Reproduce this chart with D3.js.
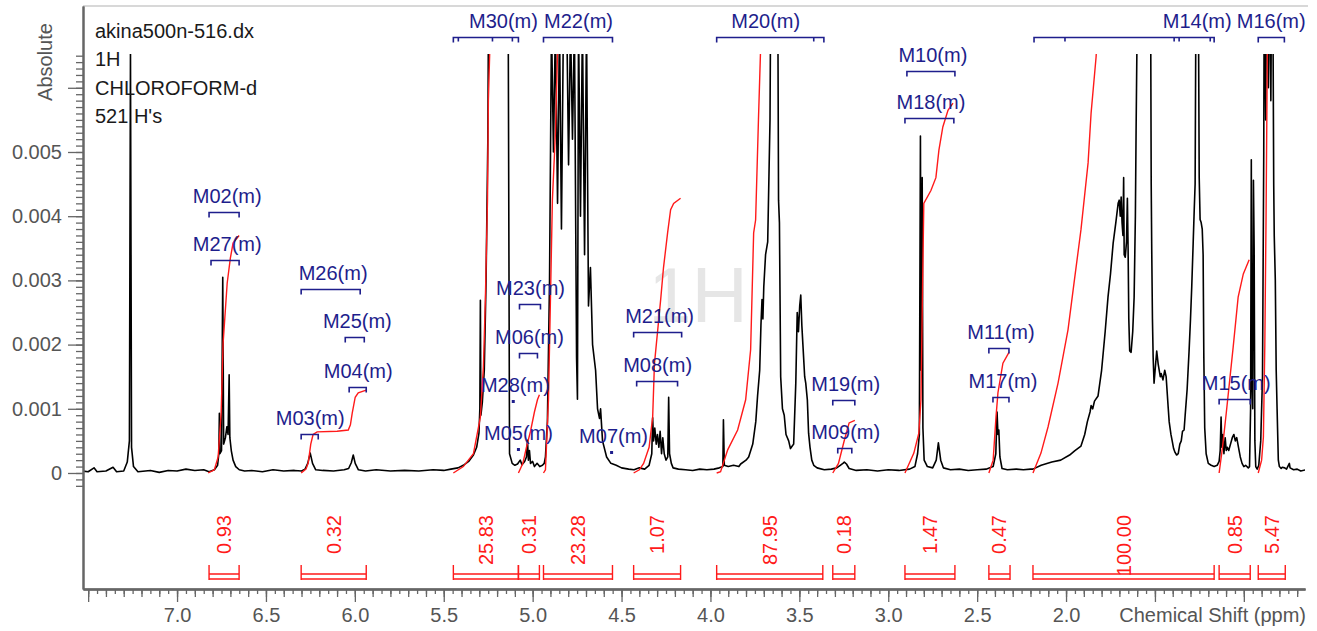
<!DOCTYPE html>
<html>
<head>
<meta charset="utf-8">
<script src="https://cdn.jsdelivr.net/npm/d3@7"></script>
<style>
  body { margin: 0; background: #fff; }
  svg { display: block; }
  text { font-family: "Liberation Sans", Arial, sans-serif; }
</style>
</head>
<body>
<svg width="1317" height="631"></svg>
<script>
// intensities are in units of 1e-3 (Absolute), shifts in ppm
const info = ['akina500n-516.dx', '1H', 'CHLOROFORM-d', "521 H's"];

const spectrum = [
  [7.53,0.03],[7.50,0.02],[7.467,0.08],[7.45,0.02],[7.40,0.03],[7.36,0.09],[7.34,0.02],[7.30,0.03],
  [7.28,0.17],[7.268,0.5],[7.262,6.6],[7.256,0.4],[7.245,0.1],[7.22,0.02],[7.15,0.04],[7.10,0.01],
  [7.05,0.04],[7.00,0.03],[6.95,0.06],[6.90,0.04],[6.85,0.05],[6.82,0.02],
  [6.79,0.05],[6.772,0.12],[6.765,0.3],[6.762,0.93],[6.759,0.3],[6.750,0.35],[6.743,3.05],[6.738,0.45],
  [6.728,0.55],[6.72,0.72],[6.713,0.6],[6.707,1.53],[6.703,0.55],[6.695,0.35],[6.685,0.2],[6.67,0.1],
  [6.65,0.05],[6.62,0.03],[6.58,0.04],[6.52,0.02],[6.46,0.05],[6.40,0.03],[6.34,0.04],[6.30,0.03],
  [6.28,0.06],[6.265,0.15],[6.251,0.31],[6.238,0.15],[6.22,0.05],[6.18,0.04],[6.12,0.03],[6.06,0.05],
  [6.035,0.07],[6.02,0.16],[6.009,0.28],[5.998,0.15],[5.98,0.05],[5.94,0.03],[5.88,0.05],[5.80,0.03],
  [5.72,0.04],[5.64,0.03],[5.56,0.05],[5.50,0.04],[5.46,0.06],[5.42,0.08],[5.39,0.12],[5.36,0.18],
  [5.333,0.28],[5.315,0.4],[5.302,0.62],[5.297,1.0],[5.294,2.69],[5.291,0.9],[5.283,1.1],[5.272,1.6],
  [5.262,3.0],[5.252,5.2],[5.246,8.5],[5.20,11],[5.16,10],[5.139,8.5],[5.130,0.3],[5.122,0.22],
  [5.115,0.15],[5.10,0.12],[5.085,0.14],[5.07,0.2],[5.06,0.13],[5.045,0.18],[5.035,0.25],[5.029,0.51],
  [5.024,0.2],[5.018,0.35],[5.012,0.15],[5.00,0.18],[4.99,0.1],[4.975,0.15],[4.96,0.1],[4.945,0.12],
  [4.935,0.15],[4.928,0.25],[4.917,0.8],[4.905,3.0],[4.894,7],[4.883,5.0],[4.872,7],[4.860,4.2],
  [4.849,7],[4.838,3.8],[4.827,7],[4.810,7.5],[4.798,4.8],[4.787,7],[4.776,5.2],[4.765,7],
  [4.753,1.8],[4.748,1.15],[4.742,7],[4.731,4.0],[4.720,7],[4.708,3.4],[4.697,7],[4.686,2.6],
  [4.675,3.2],[4.663,2.0],[4.646,1.6],[4.635,1.0],[4.624,0.85],[4.618,1.0],[4.607,0.5],[4.584,0.25],
  [4.56,0.15],[4.53,0.12],[4.50,0.08],[4.46,0.06],[4.43,0.05],[4.40,0.08],[4.37,0.06],[4.345,0.12],
  [4.33,0.3],[4.325,0.86],[4.320,0.5],[4.313,0.7],[4.305,0.45],[4.298,0.6],[4.290,0.4],[4.283,0.65],
  [4.275,0.3],[4.268,0.55],[4.260,0.3],[4.250,0.2],[4.240,0.25],[4.235,1.18],[4.230,0.3],[4.22,0.15],
  [4.21,0.08],[4.18,0.06],[4.14,0.05],[4.10,0.04],[4.06,0.06],[4.02,0.05],[3.98,0.06],[3.95,0.08],
  [3.93,0.1],[3.927,0.83],[3.922,0.12],[3.90,0.1],[3.87,0.12],[3.84,0.1],[3.83,0.14],[3.80,0.2],
  [3.785,0.25],[3.762,0.45],[3.745,0.8],[3.735,1.2],[3.723,1.6],[3.716,2.3],[3.710,2.7],[3.705,2.4],
  [3.700,2.9],[3.69,3.4],[3.678,3.6],[3.665,5.5],[3.660,8],[3.64,10],[3.622,8],[3.617,4.25],
  [3.612,3.9],[3.605,1.5],[3.595,1.0],[3.585,0.9],[3.575,0.6],[3.56,0.5],[3.55,0.38],[3.54,0.42],
  [3.532,0.45],[3.525,1.0],[3.52,1.4],[3.512,2.5],[3.505,2.2],[3.498,2.6],[3.492,2.77],[3.486,2.3],
  [3.48,2.0],[3.47,1.5],[3.464,1.4],[3.455,1.14],[3.448,0.62],[3.44,0.4],[3.43,0.2],[3.419,0.12],
  [3.40,0.08],[3.36,0.05],[3.32,0.06],[3.29,0.08],[3.27,0.12],[3.255,0.15],[3.247,0.17],[3.235,0.14],
  [3.22,0.07],[3.18,0.04],[3.12,0.05],[3.06,0.03],[3.00,0.05],[2.94,0.04],[2.88,0.06],[2.85,0.1],
  [2.835,0.3],[2.825,0.6],[2.819,5.25],[2.815,1.6],[2.812,2.0],[2.809,4.6],[2.805,0.7],[2.798,0.2],
  [2.78,0.1],[2.75,0.08],[2.73,0.2],[2.718,0.47],[2.705,0.2],[2.69,0.08],[2.65,0.05],[2.60,0.06],
  [2.55,0.04],[2.50,0.05],[2.45,0.06],[2.41,0.1],[2.395,0.3],[2.388,0.95],[2.383,0.6],[2.378,0.67],
  [2.372,0.25],[2.36,0.07],[2.33,0.05],[2.28,0.06],[2.24,0.05],[2.20,0.06],[2.186,0.06],[2.14,0.12],
  [2.08,0.17],[2.03,0.2],[1.98,0.28],[1.95,0.35],[1.916,0.42],[1.895,0.6],[1.88,0.8],[1.865,0.95],
  [1.859,1.05],[1.85,1.0],[1.84,1.12],[1.82,1.2],[1.80,1.6],[1.78,2.2],[1.764,2.74],[1.75,3.1],
  [1.735,3.58],[1.72,3.9],[1.707,4.2],[1.701,4.25],[1.695,4.0],[1.69,4.3],[1.685,3.9],[1.680,3.7],
  [1.676,4.6],[1.673,3.4],[1.667,3.36],[1.660,3.6],[1.655,4.28],[1.651,3.5],[1.647,2.4],[1.642,1.9],
  [1.634,1.88],[1.625,2.2],[1.617,2.74],[1.610,4.0],[1.606,5.34],[1.600,7],[1.58,9],[1.55,10],
  [1.525,8],[1.521,4.5],[1.518,3.47],[1.514,2.4],[1.510,1.8],[1.505,1.4],[1.499,1.6],[1.49,1.9],
  [1.482,1.7],[1.47,1.5],[1.465,1.55],[1.455,1.45],[1.445,1.6],[1.437,1.5],[1.425,1.0],[1.42,0.8],
  [1.41,0.6],[1.403,0.5],[1.395,0.38],[1.387,0.32],[1.378,0.28],[1.369,0.30],[1.360,0.45],[1.352,0.5],
  [1.345,0.65],[1.336,0.67],[1.33,0.9],[1.319,1.3],[1.308,1.9],[1.30,2.4],[1.293,2.9],[1.285,3.58],
  [1.279,4.1],[1.274,4.5],[1.270,7],[1.262,8],[1.255,7],[1.251,4.6],[1.246,3.95],[1.240,3.9],
  [1.234,3.8],[1.229,3.4],[1.225,1.8],[1.220,0.7],[1.212,0.3],[1.200,0.15],[1.184,0.12],[1.167,0.1],
  [1.15,0.12],[1.139,0.18],[1.133,0.35],[1.128,0.87],[1.124,0.4],[1.118,0.6],[1.112,0.3],[1.105,0.55],
  [1.099,0.35],[1.093,0.4],[1.085,0.35],[1.075,0.45],[1.065,0.55],[1.056,0.6],[1.048,0.5],[1.04,0.55],
  [1.03,0.4],[1.02,0.25],[1.010,0.15],[1.000,0.1],[0.99,0.12],[0.975,0.08],[0.968,0.1],[0.962,1.0],
  [0.958,4.88],[0.955,1.5],[0.950,1.0],[0.946,4.56],[0.942,3.5],[0.938,0.5],[0.933,0.1],[0.925,0.06],
  [0.916,0.12],[0.905,0.5],[0.895,1.5],[0.888,5],[0.885,8],[0.877,5.5],[0.872,8],[0.862,6],
  [0.857,8],[0.848,5.8],[0.843,8],[0.836,7],[0.832,4.5],[0.829,3.7],[0.823,3.0],[0.818,1.6],
  [0.813,1.0],[0.806,0.2],[0.80,0.1],[0.79,0.07],[0.784,0.09],[0.77,0.08],[0.76,0.06],[0.744,0.15],
  [0.74,0.08],[0.72,0.05],[0.70,0.06],[0.68,0.03],[0.65,0.05]
];

const integralRanges = [
  [6.820,6.651],[6.302,5.936],[5.446,5.080],[5.080,4.962],[4.939,4.551],[4.432,4.168],[3.965,3.368],
  [3.312,3.188],[2.906,2.625],[2.434,2.315],[2.186,1.167],[1.139,0.964],[0.919,0.767]
];
const integralValues = [0.93, 0.32, 25.83, 0.31, 23.28, 1.07, 87.95, 0.18, 1.47, 0.47, 100.00, 0.85, 5.47];

const integralCurves = [
  [[6.825,0],[6.79,0.05],[6.769,0.25],[6.752,0.93],[6.741,2.02],[6.718,2.96],[6.70,3.35],[6.685,3.58],[6.651,3.7]],
  [[6.302,0],[6.275,0.06],[6.262,0.16],[6.248,0.45],[6.235,0.6],[6.212,0.64],[6.10,0.65],[6.037,0.67],[6.025,0.75],[6.015,0.93],[5.998,1.18],[5.981,1.25],[5.936,1.29]],
  [[5.446,0],[5.39,0.1],[5.333,0.3],[5.294,0.87],[5.277,1.65],[5.266,2.7],[5.254,4.25],[5.249,5.8],[5.238,6.9],[5.23,8]],
  [[5.080,0],[5.055,0.15],[5.035,0.4],[5.012,0.65],[4.99,0.95],[4.973,1.14],[4.962,1.22]],
  [[4.939,0],[4.928,0.05],[4.911,1.14],[4.889,4.25],[4.872,5.29],[4.86,6.55],[4.85,7.5]],
  [[4.432,0],[4.40,0.05],[4.376,0.15],[4.345,0.4],[4.325,0.87],[4.315,1.7],[4.28,2.7],[4.264,3.2],[4.241,3.74],[4.224,4.1],[4.207,4.2],[4.168,4.28]],
  [[3.965,0],[3.943,0.02],[3.903,0.36],[3.847,0.67],[3.802,1.14],[3.774,1.92],[3.757,3.74],[3.746,3.94],[3.73,5.5],[3.718,6.6],[3.70,8]],
  [[3.312,0],[3.28,0.15],[3.247,0.51],[3.22,0.78],[3.188,0.82]],
  [[2.906,0],[2.856,0.31],[2.828,0.62],[2.816,1.14],[2.808,2.7],[2.800,4.2],[2.76,4.4],[2.732,4.6],[2.715,5.03],[2.693,5.39],[2.664,5.65],[2.636,5.76]],
  [[2.434,0],[2.41,0.2],[2.394,0.87],[2.383,1.25],[2.355,1.71],[2.321,1.88]],
  [[2.186,0],[2.141,0.31],[2.101,0.72],[2.045,1.40],[1.989,2.23],[1.955,2.96],[1.916,3.79],[1.876,4.83],[1.859,5.61],[1.831,6.48],[1.81,7.5]],
  [[1.139,0],[1.12,0.4],[1.099,0.93],[1.06,1.96],[1.032,2.74],[1.003,3.1],[0.97,3.32]],
  [[0.919,0],[0.90,0.2],[0.890,0.56],[0.882,2.0],[0.875,4.0],[0.868,6.5],[0.86,8]]
];

// multiplet labels: bracket from..to (ppm), label centre, bracket level (1e-3)
const multiplets = [
  {name: 'M02', from: 6.820, to: 6.651, at: 6.718, level: 4.07},
  {name: 'M27', from: 6.809, to: 6.651, at: 6.718, level: 3.32},
  {name: 'M26', from: 6.302, to: 5.970, at: 6.122, level: 2.87},
  {name: 'M25', from: 6.054, to: 5.947, at: 5.986, level: 2.12},
  {name: 'M04', from: 6.032, to: 5.936, at: 5.981, level: 1.34},
  {name: 'M03', from: 6.302, to: 6.206, at: 6.251, level: 0.61},
  {name: 'M30', from: 5.446, to: 5.080, at: 5.164, level: 6.79, ticks: [5.418, 5.226, 5.114]},
  {name: 'M22', from: 4.939, to: 4.551, at: 4.742, level: 6.79},
  {name: 'M20', from: 3.965, to: 3.362, at: 3.689, level: 6.79, ticks: [3.419]},
  {name: 'M23', from: 5.074, to: 4.956, at: 5.012, level: 2.63},
  {name: 'M06', from: 5.074, to: 4.973, at: 5.018, level: 1.87},
  {name: 'M28', from: 5.109, to: 5.109, at: 5.097, level: 1.12},
  {name: 'M05', from: 5.080, to: 5.080, at: 5.080, level: 0.37},
  {name: 'M07', from: 4.556, to: 4.556, at: 4.545, level: 0.33},
  {name: 'M21', from: 4.432, to: 4.162, at: 4.286, level: 2.20},
  {name: 'M08', from: 4.415, to: 4.185, at: 4.297, level: 1.43},
  {name: 'M19', from: 3.312, to: 3.188, at: 3.239, level: 1.14},
  {name: 'M09', from: 3.284, to: 3.205, at: 3.239, level: 0.39},
  {name: 'M10', from: 2.895, to: 2.625, at: 2.749, level: 6.26},
  {name: 'M18', from: 2.906, to: 2.631, at: 2.760, level: 5.53},
  {name: 'M14', from: 2.180, to: 1.167, at: 1.262, level: 6.79, ticks: [2.006, 1.392, 1.364, 1.189]},
  {name: 'M16', from: 0.919, to: 0.772, at: 0.846, level: 6.79},
  {name: 'M11', from: 2.434, to: 2.321, at: 2.366, level: 1.95},
  {name: 'M17', from: 2.411, to: 2.321, at: 2.355, level: 1.18},
  {name: 'M15', from: 1.139, to: 0.964, at: 1.043, level: 1.15}
];

const xLabelTicks = [7.0, 6.5, 6.0, 5.5, 5.0, 4.5, 4.0, 3.5, 3.0, 2.5, 2.0];
const yLabelTicks = [0, 1, 2, 3, 4, 5];

const svg = d3.select('svg');
const x = d3.scaleLinear().domain([7.529, 0.656]).range([83, 1305]);
const y = d3.scaleLinear().domain([-1.807, 7.274]).range([589, 6]);

const blue = '#1e1e8c';
const red = '#ff1a1a';
const grey = '#555';

// watermark
svg.append('text')
  .attr('x', 698).attr('y', 322)
  .attr('text-anchor', 'middle')
  .attr('font-size', 78)
  .attr('fill', '#e6e6e6')
  .text('1H');

// top frame line
svg.append('line')
  .attr('x1', 83).attr('x2', 1308).attr('y1', 6).attr('y2', 6)
  .attr('stroke', '#d8d8d8').attr('stroke-width', 2);

svg.append('defs').append('clipPath').attr('id', 'plot')
  .append('rect').attr('x', 83).attr('y', 54).attr('width', 1222).attr('height', 535);

const line = d3.line().x(d => x(d[0])).y(d => y(d[1]));

const plot = svg.append('g').attr('clip-path', 'url(#plot)');
plot.append('path')
  .attr('d', line(spectrum))
  .attr('fill', 'none')
  .attr('stroke', '#000')
  .attr('stroke-width', 1.6)
  .attr('stroke-linejoin', 'round');

plot.selectAll('path.integral')
  .data(integralCurves)
  .enter()
  .append('path')
  .attr('class', 'integral')
  .attr('d', line)
  .attr('fill', 'none')
  .attr('stroke', red)
  .attr('stroke-width', 1.4);

// integral brackets and values at the bottom
const ib = svg.append('g').attr('stroke', red).attr('stroke-width', 1.4).attr('fill', 'none');
integralRanges.forEach(([a, b]) => {
  const x1 = x(a), x2 = x(b);
  ib.append('path')
    .attr('d', `M${x1},565V580M${x2},565V580M${x1},574H${x2}M${x1},579H${x2}`);
});
svg.append('g')
  .selectAll('text')
  .data(integralRanges)
  .enter()
  .append('text')
  .attr('transform', d => `translate(${(x(d[0]) + x(d[1])) / 2 + 7},515) rotate(-90)`)
  .attr('text-anchor', 'end')
  .attr('font-size', 20)
  .attr('fill', red)
  .text((d, i) => integralValues[i].toFixed(2));

// multiplet labels
const mg = svg.append('g');
multiplets.forEach(m => {
  const yy = Math.round(y(m.level)) + 0.5;
  if (m.from === m.to) {
    mg.append('rect')
      .attr('x', x(m.from) - 1.5).attr('y', yy - 1.5)
      .attr('width', 3).attr('height', 3)
      .attr('fill', blue);
  } else {
    const x1 = x(m.from), x2 = x(m.to);
    let d = `M${x1},${yy + 5}V${yy}H${x2}V${yy + 5}`;
    (m.ticks || []).forEach(t => { d += `M${x(t)},${yy}V${yy + 4}`; });
    mg.append('path').attr('d', d)
      .attr('fill', 'none').attr('stroke', blue).attr('stroke-width', 1.6);
  }
  mg.append('text')
    .attr('x', x(m.at)).attr('y', yy - 10)
    .attr('text-anchor', 'middle')
    .attr('font-size', 20)
    .attr('fill', blue)
    .text(m.name + '(m)');
});

// x axis
const xAxisG = svg.append('g').attr('transform', 'translate(0,589)');
const minorX = d3.range(14, 151).map(i => i / 20);
const midX = d3.range(7, 76).map(i => i / 10);
const majorX = d3.range(2, 16).map(i => i / 2);
xAxisG.append('g').call(d3.axisBottom(x).tickValues(minorX).tickSize(5).tickSizeOuter(0).tickFormat(''));
xAxisG.append('g').call(d3.axisBottom(x).tickValues(midX).tickSize(8).tickSizeOuter(0).tickFormat(''));
xAxisG.append('g').call(d3.axisBottom(x).tickValues(majorX).tickSize(13).tickSizeOuter(0).tickPadding(6)
  .tickFormat(d => xLabelTicks.includes(d) ? d.toFixed(1) : ''));

// y axis
const yAxisG = svg.append('g').attr('transform', 'translate(83,0)');
const minorY = d3.range(-2, 66).map(i => i / 10);
yAxisG.append('g').call(d3.axisLeft(y).tickValues(minorY).tickSize(7).tickSizeOuter(0).tickFormat(''));
yAxisG.append('g').call(d3.axisLeft(y).tickValues([0, 1, 2, 3, 4, 5, 6]).tickSize(15).tickSizeOuter(0).tickPadding(6)
  .tickFormat(d => yLabelTicks.includes(d) ? (d === 0 ? '0' : (d / 1000).toFixed(3)) : ''));

svg.selectAll('.domain').attr('stroke', '#666').attr('stroke-width', 2);
svg.selectAll('.tick line').attr('stroke', '#666').attr('stroke-width', 1.3);
svg.selectAll('.tick text')
  .attr('font-size', 20)
  .attr('font-family', '"Liberation Sans", Arial, sans-serif')
  .attr('fill', grey);

svg.append('text')
  .attr('x', 1306).attr('y', 622)
  .attr('text-anchor', 'end')
  .attr('font-size', 20)
  .attr('fill', grey)
  .text('Chemical Shift (ppm)');

svg.append('text')
  .attr('transform', 'translate(52,62) rotate(-90)')
  .attr('text-anchor', 'middle')
  .attr('font-size', 20)
  .attr('fill', grey)
  .text('Absolute');

// header text
svg.append('g')
  .selectAll('text')
  .data(info)
  .enter()
  .append('text')
  .attr('x', 95)
  .attr('y', (d, i) => 38 + i * 28.4)
  .attr('font-size', 20)
  .attr('fill', '#1a1a1a')
  .text(d => d);
</script>
</body>
</html>
